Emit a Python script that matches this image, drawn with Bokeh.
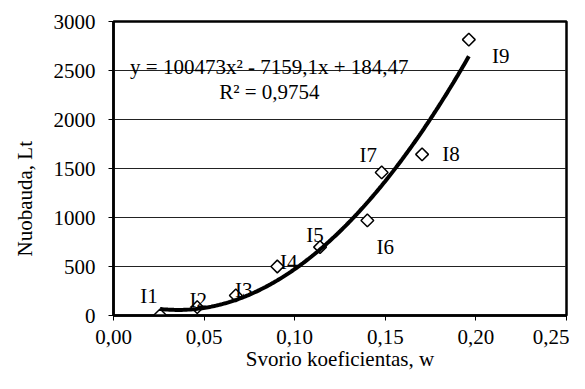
import math
import numpy as np
from bokeh.plotting import figure
from bokeh.models import (ColumnDataSource, FixedTicker, CustomJSTickFormatter, Title, Range1d)
from bokeh.core.properties import value
from bokeh.embed import file_html
from bokeh.resources import INLINE

# ---- data ----
names = ["I1", "I2", "I3", "I4", "I5", "I6", "I7", "I8", "I9"]
w_coef = [0.0257, 0.0462, 0.0675, 0.0904, 0.1140, 0.1401, 0.1480, 0.1703, 0.1961]
penalty = [2, 85, 205, 500, 698, 970, 1460, 1644, 2815]
trend_coefs = [100473, -7159.1, 184.47]
x_ticks = [0.0, 0.05, 0.10, 0.15, 0.20, 0.25]
y_ticks = [0, 500, 1000, 1500, 2000, 2500, 3000]
eq_text = "y = 100473x\u00b2 - 7159,1x + 184,47"
r2_text = "R\u00b2 = 0,9754"
x_title = "Svorio koeficientas, w"
y_title = "Nuobauda, Lt"

# label offsets (screen px) relative to each point
lbl_dx = [-11, 1, 8, 11.5, -5, 18, -13.5, 29, 32]
lbl_dy = [-19, -7.5, -5.3, -5, -12.3, 26.5, -17.3, 0, 16]

FONT = "Liberation Serif"
FS = "21px"

p = figure(width=569, height=373, output_backend="svg", toolbar_location=None,
           x_range=Range1d(0, 0.25), y_range=Range1d(0, 3000),
           min_border_left=109, min_border_right=3, min_border_top=21, min_border_bottom=57)
p.background_fill_color = "white"
p.border_fill_color = "white"
p.outline_line_color = "black"
p.outline_line_width = 2.5

p.xgrid.visible = False
p.ygrid.grid_line_color = "#222222"
p.ygrid.grid_line_width = 1

xa = p.xaxis[0]
ya = p.yaxis[0]
for ax in (xa, ya):
    ax.axis_line_color = "black"
    ax.axis_line_width = 2.5
    ax.major_tick_line_color = "black"
    ax.major_tick_line_width = 1
    ax.major_tick_out = 5
    ax.major_tick_in = 0
    ax.minor_tick_line_color = None
    ax.major_label_text_font = FONT
    ax.major_label_text_font_size = FS
    ax.major_label_text_font_style = "normal"
    ax.major_label_text_color = "black"

xa.ticker = FixedTicker(ticks=x_ticks)
xa.formatter = CustomJSTickFormatter(code="return tick.toFixed(2).replace('.', ',');")
xa.major_label_standoff = 9
xa.axis_label = x_title
xa.axis_label_text_font = FONT
xa.axis_label_text_font_size = FS
xa.axis_label_text_font_style = "normal"
xa.axis_label_text_color = "black"
xa.axis_label_standoff = 0

ya.ticker = FixedTicker(ticks=y_ticks)
ya.major_label_standoff = 13

# y title as a left-side title shifted along the axis
yt = Title(text=y_title, align="left", offset=59, standoff=24, vertical_align="top",
           text_font=FONT, text_font_size=FS, text_font_style="normal", text_color="black")
p.add_layout(yt, "left")

# markers
src = ColumnDataSource(dict(x=w_coef, y=penalty, t=names, dx=lbl_dx, dy=lbl_dy))
p.scatter("x", "y", source=src, marker="square", angle=math.pi / 4, size=9,
          fill_color="white", line_color="black", line_width=1.5)

# trendline (from printed equation)
xs = np.linspace(min(w_coef), max(w_coef), 200)
ys = np.polyval(trend_coefs, xs)
p.line(xs, ys, line_color="black", line_width=4)

# point labels
p.text("x", "y", text="t", source=src, x_offset="dx", y_offset="dy",
       text_font=value(FONT), text_font_size=FS, text_color="black",
       text_align="center", text_baseline="alphabetic")

# equation
p.text(x=[0.0860], y=[2537], text=[eq_text], text_font=value(FONT), text_font_size=FS,
       text_color="black", text_align="center", text_baseline="alphabetic")
p.text(x=[0.0860], y=[2278], text=[r2_text], text_font=value(FONT), text_font_size=FS,
       text_color="black", text_align="center", text_baseline="alphabetic")

open("out.html", "w").write(file_html(p, INLINE))
